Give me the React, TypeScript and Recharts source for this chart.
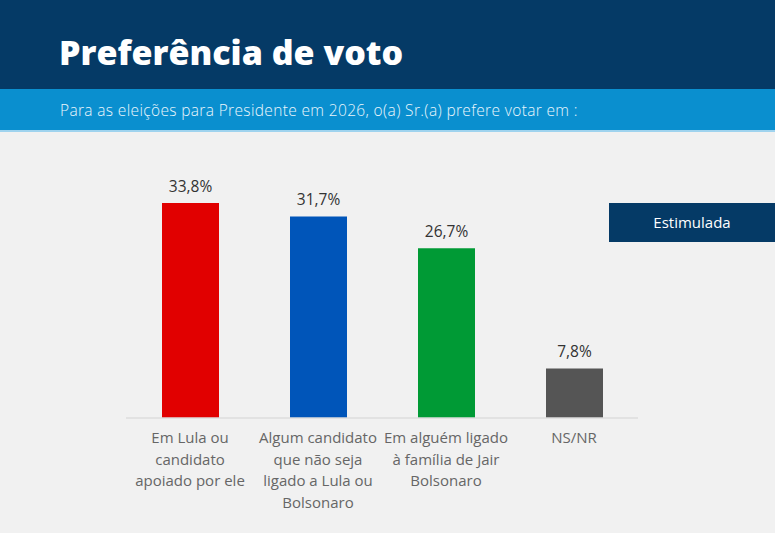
import * as React from 'react';
import { BarChart, Bar, XAxis, YAxis, Cell, LabelList } from 'recharts';

const categories = [
  'Em Lula ou\ncandidato\napoiado por ele',
  'Algum candidato\nque não seja\nligado a Lula ou\nBolsonaro',
  'Em alguém ligado\nà família de Jair\nBolsonaro',
  'NS/NR',
];
const values = [33.8, 31.7, 26.7, 7.8];
const barColors = ['#e10000', '#0055b9', '#009a35', '#555555'];

const data = categories.map((name, i) => ({ name, value: values[i] }));

const FONT = '"Open Sans", Roboto, sans-serif';

const fmt = (v: number) => v.toFixed(1).replace('.', ',') + '%';

const WrappedTick = (props: any) => {
  const { x, y, payload } = props;
  const lines: string[] = String(payload.value).split('\n');
  return (
    <g transform={`translate(${x},${y})`}>
      <text textAnchor="middle" fill="#666" fontSize={15} fontFamily={FONT}>
        {lines.map((line, i) => (
          <tspan key={i} x={0} dy={i === 0 ? 17 : 21.5}>
            {line}
          </tspan>
        ))}
      </text>
    </g>
  );
};

const App: React.FC = () => {
  return (
    <div
      style={{
        position: 'absolute',
        top: 0,
        left: 0,
        width: 775,
        height: 533,
        background: '#f1f1f1',
        fontFamily: FONT,
        overflow: 'hidden',
      }}
    >
      {/* header band */}
      <div style={{ position: 'absolute', top: 0, left: 0, width: 775, height: 89, background: '#053a66' }} />
      <div
        style={{
          position: 'absolute',
          top: 30,
          left: 59,
          color: '#fff',
          fontSize: 34,
          fontWeight: 800,
          lineHeight: '44px',
          letterSpacing: 0,
        }}
      >
        Preferência de voto
      </div>
      <div style={{ position: 'absolute', top: 89, left: 0, width: 775, height: 41, background: '#0a8fcf' }} />
      <div style={{ position: 'absolute', top: 130, left: 0, width: 775, height: 2, background: '#9fd3ee' }} />
      <div
        style={{
          position: 'absolute',
          top: 99,
          left: 60,
          color: '#eaf6fc',
          fontSize: 15.5,
          fontWeight: 300,
          lineHeight: '22px',
          letterSpacing: 0.35,
        }}
      >
        Para as eleições para Presidente em 2026, o(a) Sr.(a) prefere votar em :
      </div>

      {/* badge */}
      <div
        style={{
          position: 'absolute',
          top: 203,
          left: 609,
          width: 166,
          height: 39,
          background: '#053a66',
          color: '#fff',
          fontSize: 15,
          lineHeight: '39px',
          textAlign: 'center',
        }}
      >
        Estimulada
      </div>

      <div style={{ position: 'absolute', top: 0, left: 0 }}>
        <BarChart
          width={775}
          height={533}
          data={data}
          margin={{ top: 163.6, right: 137, bottom: 0, left: 126 }}
          barSize={57}
        >
          <YAxis hide domain={[0, 40]} />
          <XAxis
            dataKey="name"
            height={115}
            interval={0}
            tickLine={false}
            axisLine={{ stroke: '#dcdcdc', strokeWidth: 1.5 }}
            tick={<WrappedTick />}
          />
          <Bar dataKey="value" isAnimationActive={false}>
            {data.map((d, i) => (
              <Cell key={d.name} fill={barColors[i]} />
            ))}
            <LabelList
              dataKey="value"
              position="top"
              offset={11}
              formatter={(v: any) => fmt(Number(v))}
              fill="#333"
              fontSize={15.5}
              fontFamily={FONT}
            />
          </Bar>
        </BarChart>
      </div>
    </div>
  );
};

export default App;
